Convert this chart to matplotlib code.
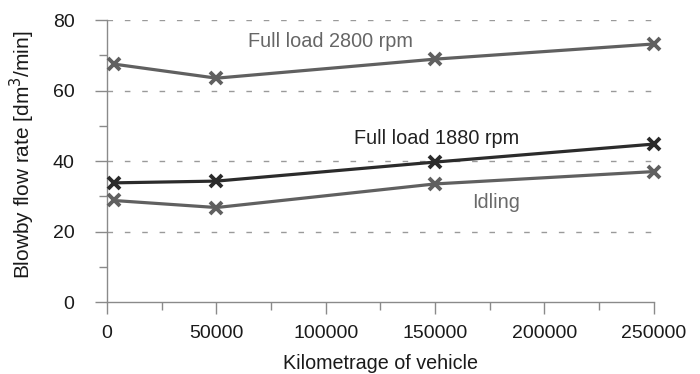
import matplotlib
matplotlib.use('Agg')
import matplotlib.pyplot as plt
from matplotlib.ticker import MultipleLocator

plt.rcParams['font.family'] = ['Liberation Sans', 'DejaVu Sans']

# data
km = [3000, 50000, 150000, 250000]
full2800 = [67.5, 63.5, 68.9, 73.2]
full1880 = [33.8, 34.3, 39.7, 44.8]
idling = [28.8, 26.8, 33.5, 37.0]

xticks = [0, 50000, 100000, 150000, 200000, 250000]
yticks = [0, 20, 40, 60, 80]

fig = plt.figure(figsize=(7.0, 3.74), dpi=100)
ax = fig.add_axes([0.153, 0.1925, 0.781, 0.754])

ax.set_xlim(0, 250000)
ax.set_ylim(0, 80)

for y in yticks[1:]:
    ax.axhline(y, color='#9a9a9a', lw=1.0, ls=(0, (4, 8.5)), zorder=1)

lightc = '#606060'
darkc = '#2b2b2b'
ax.plot(km, full2800, color=lightc, lw=2.3, marker='x', ms=9, mew=2.8, zorder=3, clip_on=False)
ax.plot(km, idling, color=lightc, lw=2.3, marker='x', ms=9, mew=2.8, zorder=3, clip_on=False)
ax.plot(km, full1880, color=darkc, lw=2.3, marker='x', ms=9, mew=2.8, zorder=4, clip_on=False)

ax.text(64400, 74.0, 'Full load 2800 rpm', color='#666666', fontsize=14.3, va='center')
ax.text(112900, 46.5, 'Full load 1880 rpm', color='#222222', fontsize=14.3, va='center')
ax.text(166800, 28.1, 'Idling', color='#6a6a6a', fontsize=14.3, va='center')

ax.set_xticks(xticks)
ax.set_xticklabels([str(v) for v in xticks])
ax.set_yticks(yticks)
ax.xaxis.set_minor_locator(MultipleLocator(25000))
ax.yaxis.set_minor_locator(MultipleLocator(10))

for s in ['top', 'right']:
    ax.spines[s].set_visible(False)
for s in ['left', 'bottom']:
    ax.spines[s].set_color('#8a8a8a')
    ax.spines[s].set_linewidth(1.0)

ax.tick_params(axis='both', which='major', length=8.5, width=1.0, color='#8a8a8a',
               labelsize=14, labelcolor='#1a1a1a')
ax.tick_params(axis='both', which='minor', length=5.5, width=1.0, color='#8a8a8a')
ax.tick_params(axis='x', which='major', pad=8)
ax.tick_params(axis='y', which='major', pad=15)

ax.set_ylabel('Blowby flow rate [dm$^3$/min]', fontsize=15, color='#1a1a1a')
ax.yaxis.set_label_coords(-0.128, 0.521)
ax.set_xlabel('Kilometrage of vehicle', fontsize=14.2, color='#1a1a1a', labelpad=9)

fig.savefig('out.png', dpi=100)
